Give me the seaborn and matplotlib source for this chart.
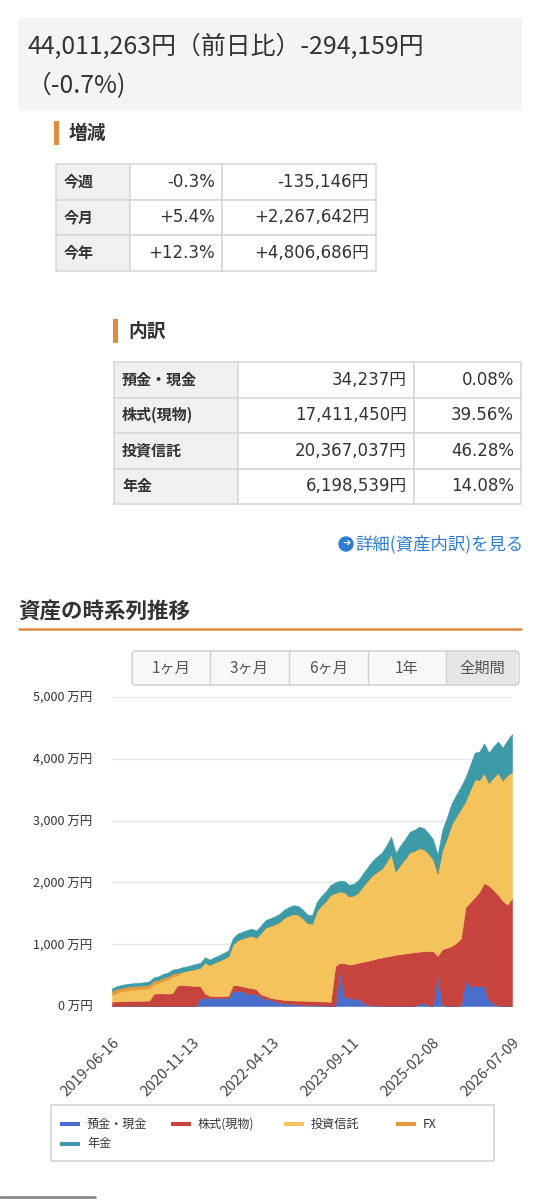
import matplotlib
matplotlib.use("Agg")
import matplotlib.pyplot as plt
import matplotlib.patches as mpatches
import pandas as pd
import seaborn as sns

# ---- 上部のサマリー ----
total_text = "44,011,263円（前日比）-294,159円"
total_pct_text = "（-0.7%)"

change_labels = ["今週", "今月", "今年"]
change_pct = ["-0.3%", "+5.4%", "+12.3%"]
change_yen = ["-135,146円", "+2,267,642円", "+4,806,686円"]

breakdown_labels = ["預金・現金", "株式(現物)", "投資信託", "年金"]
breakdown_yen = ["34,237円", "17,411,450円", "20,367,037円", "6,198,539円"]
breakdown_pct = ["0.08%", "39.56%", "46.28%", "14.08%"]

range_buttons = ["1ヶ月", "3ヶ月", "6ヶ月", "1年", "全期間"]

# ---- 資産の時系列推移 (万円, 30日ごと 2019-06-16 → 2026-07-09) ----
start_date = "2019-06-16"
end_date = "2026-07-09"
tick_labels = ["2019-06-16", "2020-11-13", "2022-04-13",
               "2023-09-11", "2025-02-08", "2026-07-09"]

yokin = [2, 2, 2, 2, 2, 2, 2, 2, 2, 2,
         2, 2, 2, 2, 2, 2, 2, 2, 5, 130,
         130, 130, 130, 130, 130, 135, 240, 245, 240, 200,
         195, 190, 140, 120, 100, 80, 55, 45, 38, 30,
         25, 20, 15, 12, 10, 8, 6, 5, 5, 560,
         150, 130, 120, 110, 60, 20, 10, 8, 8, 5,
         5, 5, 5, 5, 5, 5, 30, 60, 10, 5,
         540, 20, 5, 5, 5, 10, 420, 320, 320, 320,
         320, 100, 40, 10, 5, 5, 3.4]

kabu = [68, 73, 76, 78, 80, 82, 83, 84, 86, 198,
        203, 203, 198, 208, 328, 338, 333, 328, 320, 190,
        70, 35, 30, 30, 30, 30, 100, 90, 80, 100,
        95, 80, 50, 45, 35, 40, 55, 55, 57, 60,
        63, 66, 69, 68, 68, 67, 66, 65, 645, 140,
        540, 540, 560, 590, 655, 710, 740, 762, 777, 795,
        810, 825, 835, 845, 855, 865, 850, 825, 880, 885,
        270, 900, 935, 965, 1015, 1080, 1180, 1360, 1440, 1530,
        1670, 1850, 1840, 1790, 1695, 1635, 1741]

toshin = [108, 139, 157, 169, 178, 182, 187, 193, 204, 155,
          163, 201, 226, 265, 157, 215, 233, 255, 277, 300,
          508, 500, 542, 570, 607, 639, 660, 730, 772, 820,
          848, 835, 992, 1105, 1161, 1202, 1250, 1327, 1369, 1400,
          1390, 1336, 1261, 1250, 1457, 1555, 1633, 1730, 1180, 1155,
          1150, 1105, 1110, 1142, 1230, 1305, 1370, 1405, 1440, 1535,
          1645, 1350, 1450, 1530, 1630, 1640, 1675, 1655, 1580, 1490,
          1340, 1610, 1780, 1970, 2050, 2100, 1720, 1820, 1910, 1810,
          1780, 1660, 1820, 1970, 1950, 2100, 2037]

fx = [65, 62, 60, 60, 58, 58, 57, 56, 56, 55,
      55, 54, 52, 50, 45, 0, 0, 0, 0, 0,
      0, 0, 0, 0, 0, 0, 0, 0, 0, 0,
      0, 0, 0, 0, 0, 0, 0, 0, 0, 0,
      0, 0, 0, 0, 0, 0, 0, 0, 0, 0,
      0, 0, 0, 0, 0, 0, 0, 0, 0, 0,
      0, 0, 0, 0, 0, 0, 0, 0, 0, 0,
      0, 0, 0, 0, 0, 0, 0, 0, 0, 0,
      0, 0, 0, 0, 0, 0, 0]

nenkin = [43, 44, 45, 46, 47, 48, 49, 50, 52, 55,
          57, 60, 62, 65, 68, 70, 72, 75, 78, 80,
          82, 85, 88, 90, 93, 96, 100, 105, 108, 110,
          112, 115, 118, 120, 124, 128, 130, 133, 136, 140,
          142, 138, 135, 140, 145, 150, 155, 160, 170, 175,
          180, 185, 190, 198, 205, 215, 230, 245, 255, 265,
          280, 300, 310, 320, 330, 340, 345, 340, 330, 320,
          300, 320, 330, 340, 350, 360, 380, 400, 430, 460,
          480, 490, 500, 510, 530, 560, 620]

series_names = ["預金・現金", "株式(現物)", "投資信託", "FX", "年金"]
series_colors = ["#4a6ecb", "#c6443d", "#f4c35c", "#e5993a", "#3d9ba7"]

accent = "#e08b3e"
text_dark = "#333333"
num_font = ["DejaVu Sans", "Noto Sans CJK JP"]

sns.set_theme(style="white")
plt.rcParams["font.family"] = ["Noto Sans CJK JP", "DejaVu Sans"]

fig = plt.figure(figsize=(5.57, 12), dpi=100)
fig.patch.set_facecolor("white")

# 画面全体をピクセル座標で扱うための背景軸
page = fig.add_axes([0, 0, 1, 1], zorder=0)
page.set_xlim(0, 557)
page.set_ylim(1200, 0)
page.axis("off")

# ヘッダー
page.add_patch(mpatches.FancyBboxPatch((18, 18), 504, 93,
                                       boxstyle="round,pad=0,rounding_size=3",
                                       fc="#f4f4f4", ec="none"))
page.text(27, 47, total_text, fontsize=17.9, color=text_dark, va="center")
page.text(27, 86, total_pct_text, fontsize=17.9, color=text_dark, va="center")


def section_title(x, y, label):
    page.add_patch(mpatches.Rectangle((x, y - 12), 5, 24, color=accent, lw=0))
    page.text(x + 15, y, label, fontsize=13.5, weight="bold", color=text_dark, va="center")


def draw_table(left, top, widths, row_h, rows):
    for r, row in enumerate(rows):
        y = top + r * row_h
        x = left
        for c, (w, val) in enumerate(zip(widths, row)):
            fc = "#f0f0f2" if c == 0 else "white"
            page.add_patch(mpatches.Rectangle((x, y), w, row_h, fc=fc,
                                              ec="#d8d8d8", lw=1.2))
            if c == 0:
                page.text(x + 8, y + row_h / 2, val, fontsize=10.8, weight="bold",
                          color=text_dark, va="center", ha="left")
            else:
                page.text(x + w - 7, y + row_h / 2, val, fontsize=12,
                          color=text_dark, va="center", ha="right", family=num_font)
            x += w


section_title(54, 133, "増減")
draw_table(56, 164, [74, 92, 154], 35.5,
           list(zip(change_labels, change_pct, change_yen)))

section_title(113, 331, "内訳")
draw_table(114, 362, [124, 176, 107], 35.5,
           list(zip(breakdown_labels, breakdown_yen, breakdown_pct)))

# 詳細リンク
page.add_patch(mpatches.Circle((346, 544), 7, color="#2f7dd3"))
page.text(346.5, 544, "➜", fontsize=7, color="white", ha="center", va="center",
          family=["DejaVu Sans"])
page.text(355, 544, "詳細(資産内訳)を見る", fontsize=12.5, color="#2f7dd3", va="center")

# 見出し
page.text(18, 611, "資産の時系列推移", fontsize=15.5, weight="bold", color=text_dark, va="center")
page.plot([18, 522], [629, 629], color=accent, lw=1.8, solid_capstyle="butt")

# 期間ボタン
btn_edges = [132, 210, 289, 368, 446, 519]
page.add_patch(mpatches.FancyBboxPatch((132, 651), 387, 34,
                                       boxstyle="round,pad=0,rounding_size=4",
                                       fc="#f8f8f8", ec="none"))
page.add_patch(mpatches.Rectangle((446, 651), 71, 34, fc="#e6e6e6", ec="none"))
page.add_patch(mpatches.FancyBboxPatch((132, 651), 387, 34,
                                       boxstyle="round,pad=0,rounding_size=4",
                                       fc="none", ec="#cccccc", lw=1))
for i, lab in enumerate(range_buttons):
    if i > 0:
        page.plot([btn_edges[i]] * 2, [651, 685], color="#d2d2d2", lw=1)
    page.text((btn_edges[i] + btn_edges[i + 1]) / 2, 668, lab, fontsize=11,
              color="#555555", ha="center", va="center")

# ---- 積み上げ面グラフ ----
dates = pd.date_range(start_date, end_date, freq="30D")
df = pd.DataFrame({"date": dates, "預金・現金": yokin, "株式(現物)": kabu,
                   "投資信託": toshin, "FX": fx, "年金": nenkin})

ax = fig.add_axes([112 / 557, 1 - 1006 / 1200, 400 / 557, 309 / 1200], zorder=1)
ax.patch.set_alpha(0)
polys = ax.stackplot(df["date"], [df[n] for n in series_names],
                     colors=series_colors, labels=series_names)
for p in polys:
    p.set_edgecolor(p.get_facecolor())
    p.set_linewidth(0.4)

ax.set_xlim(df["date"].iloc[0], df["date"].iloc[-1])
ax.set_ylim(0, 5000)
yt = [0, 1000, 2000, 3000, 4000, 5000]
ax.set_yticks(yt)
ax.set_yticklabels([f"{v:,} 万円" for v in yt], fontsize=9, color=text_dark)
ax.set_xticks(pd.to_datetime(tick_labels))
ax.set_xticklabels(tick_labels, rotation=45, ha="right", rotation_mode="anchor",
                   fontsize=10.7, color="#444444")
ax.tick_params(axis="y", length=0, pad=14)
ax.tick_params(axis="x", length=0, pad=21)
ax.yaxis.grid(True, color="#e6e6e6", lw=1)
ax.set_axisbelow(True)
ax.axhline(0, color="#666666", lw=0.8)
sns.despine(ax=ax, left=True, bottom=True)

# 凡例
page.add_patch(mpatches.Rectangle((51, 1105), 443, 56, fc="white", ec="#d6d6d6", lw=1.2))
legend_pos = [(60, 1124), (171, 1124), (284, 1124), (396, 1124), (60, 1144)]
for (lx, ly), name, col in zip(legend_pos, series_names, series_colors):
    page.plot([lx, lx + 20], [ly, ly], color=col, lw=3, solid_capstyle="butt")
    page.text(lx + 27, ly, name, fontsize=8.7, color=text_dark, va="center")

# 下端の影
page.plot([0, 95], [1197, 1197], color="#8a8a8a", lw=2)

fig.savefig("out.png", dpi=100)
